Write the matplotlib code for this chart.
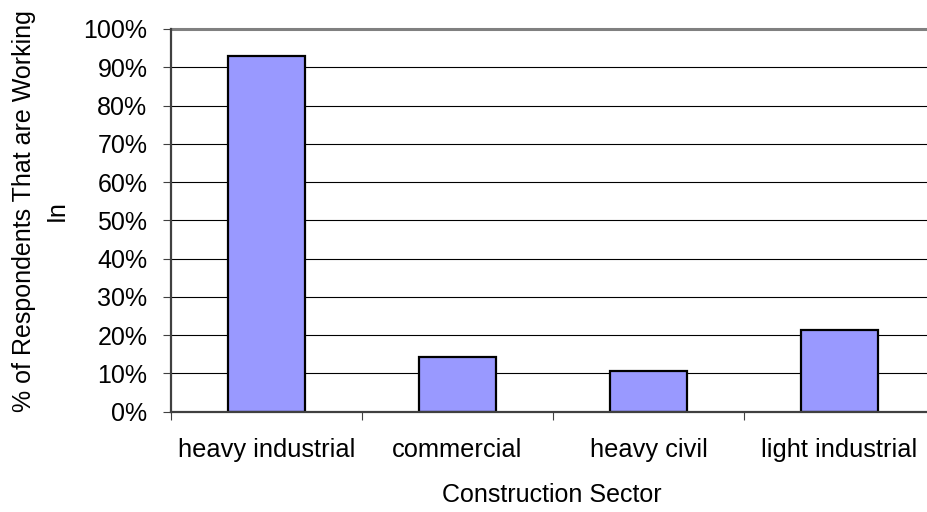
import matplotlib
matplotlib.use("Agg")
import matplotlib.pyplot as plt
from matplotlib.ticker import FixedLocator, PercentFormatter

# Survey results: share of respondents working in each construction sector
sectors = ["heavy industrial", "commercial", "heavy civil", "light industrial"]
share_pct = [92.9, 14.3, 10.7, 21.4]
y_ticks = list(range(0, 101, 10))

plt.rcParams["font.family"] = ["Liberation Sans", "DejaVu Sans"]

W, H = 927, 512
fig = plt.figure(figsize=(W / 100, H / 100), dpi=100)
left_px, right_px = 171, 935
bottom_px, top_px = 411.7, 29
ax = fig.add_axes([left_px / W, (H - bottom_px) / H,
                   (right_px - left_px) / W, (bottom_px - top_px) / H])

x = list(range(len(sectors)))
ax.bar(x, share_pct, width=0.4, color="#9999FF", edgecolor="black",
       linewidth=1.6, zorder=3)

ax.set_xlim(-0.5, len(sectors) - 0.5)
ax.set_ylim(0, 100)
ax.set_yticks(y_ticks)
ax.yaxis.set_major_formatter(PercentFormatter(decimals=0))
ax.yaxis.grid(True, color="black", linewidth=0.8, zorder=0)
ax.set_axisbelow(True)

ax.set_xticks(x)
ax.set_xticklabels(sectors)
ax.xaxis.set_minor_locator(FixedLocator([i + 0.5 for i in range(-1, len(sectors))]))
ax.tick_params(axis="x", which="major", length=0, pad=19, labelsize=18.3)
ax.tick_params(axis="x", which="minor", length=6, width=0.8, color="#404040",
               direction="out")
ax.tick_params(axis="y", which="major", length=6, width=0.8, color="#404040",
               direction="out", pad=11, labelsize=18)

for side in ("top", "right"):
    ax.spines[side].set_color("#808080")
    ax.spines[side].set_linewidth(2.2)
for side in ("left", "bottom"):
    ax.spines[side].set_color("#404040")
    ax.spines[side].set_linewidth(1.6)
    ax.spines[side].set_zorder(4)

fig.text(40.5 / W, (H - 211) / H,
         "% of Respondents That are Working\nIn",
         rotation=90, ha="center", va="center", multialignment="center",
         fontsize=18, linespacing=1.45)
fig.text(552 / W, (H - 501.7) / H, "Construction Sector",
         ha="center", va="baseline", fontsize=18)

fig.savefig("out.png", dpi=100)
